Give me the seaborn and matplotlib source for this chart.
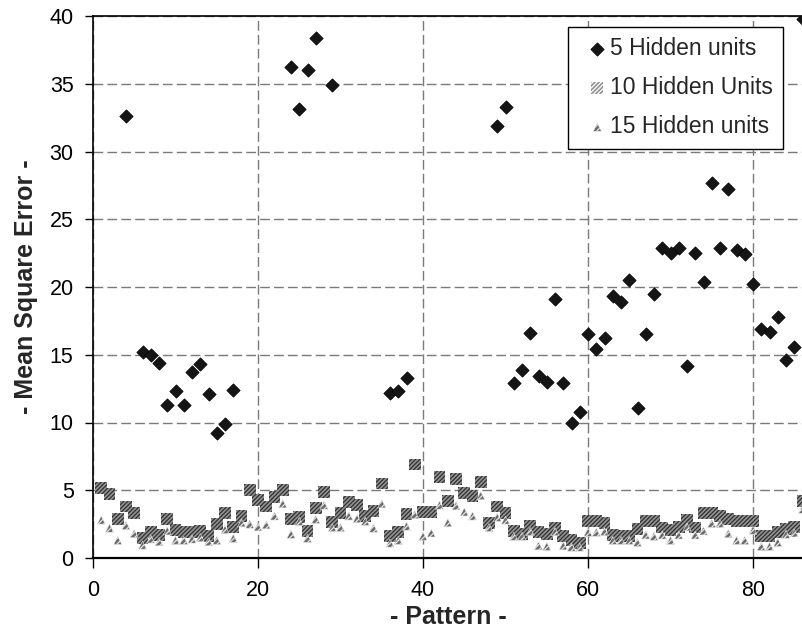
import numpy as np
import pandas as pd
import matplotlib
matplotlib.use('Agg')
import matplotlib.pyplot as plt
import seaborn as sns

# values (pattern 1..86), nan = off the chart
nan = np.nan
patterns = list(range(1, 87))

mse_5_hidden = [
    nan, nan, nan, 32.6, nan, 15.2, 15.0, 14.4, 11.3, 12.3,
    11.3, 13.75, 14.3, 12.1, 9.2, 9.9, 12.4, nan, nan, nan,
    nan, nan, nan, 36.2, 33.1, 36.0, 38.4, nan, 34.9, nan,
    nan, nan, nan, nan, nan, 12.2, 12.3, 13.3, nan, nan,
    nan, nan, nan, nan, nan, nan, nan, nan, 31.9, 33.3,
    12.9, 13.85, 16.6, 13.4, 13.0, 19.1, 12.9, 10.0, 10.8, 16.5,
    15.4, 16.2, 19.3, 18.9, 20.5, 11.1, 16.5, 19.5, 22.9, 22.5,
    22.9, 14.2, 22.5, 20.4, 27.7, 22.9, 27.2, 22.7, 22.4, 20.2,
    16.9, 16.7, 17.8, 14.6, 15.6, 39.8,
]

mse_10_hidden = [
    5.2, 4.7, 2.9, 3.8, 3.3, 1.5, 1.9, 1.7, 2.9, 2.05,
    1.9, 1.9, 2.0, 1.6, 2.5, 3.3, 2.3, 3.1, 5.0, 4.3,
    3.8, 4.5, 5.0, 2.9, 3.0, 2.0, 3.7, 4.85, 2.65, 3.3,
    4.1, 3.9, 3.1, 3.5, 5.5, 1.6, 1.9, 3.25, 6.9, 3.4,
    3.4, 5.95, 4.2, 5.8, 4.8, 4.6, 5.6, 2.55, 3.8, 3.3,
    2.0, 1.8, 2.35, 1.95, 1.8, 2.2, 1.65, 1.3, 1.1, 2.7,
    2.7, 2.6, 1.7, 1.6, 1.6, 2.15, 2.7, 2.7, 2.25, 2.05,
    2.3, 2.8, 2.25, 3.3, 3.3, 3.1, 2.85, 2.75, 2.75, 2.75,
    1.65, 1.6, 1.9, 2.15, 2.3, 4.2,
]

mse_15_hidden = [
    2.8, 2.2, 1.3, 2.4, 1.8, 0.95, 1.4, 1.2, 2.0, 1.3,
    1.3, 1.4, 1.5, 1.2, 1.3, 2.1, 1.45, 2.6, 2.5, 2.3,
    2.45, 3.1, 4.0, 1.75, 2.7, 1.45, 2.85, 3.9, 2.25, 2.25,
    3.1, 2.9, 2.7, 2.2, 4.0, 1.1, 1.3, 2.35, 3.2, 1.6,
    1.85, 3.9, 2.6, 3.85, 3.4, 3.1, 4.6, 2.25, 3.0, 2.8,
    1.6, 1.6, 1.95, 0.9, 0.85, 1.95, 0.9, 0.8, 0.8, 1.9,
    1.9, 1.95, 1.3, 1.3, 1.3, 1.15, 1.7, 1.6, 1.7, 1.3,
    1.7, 2.3, 1.7, 2.0, 2.55, 2.55, 1.8, 1.3, 1.3, 2.05,
    0.85, 0.85, 1.15, 1.75, 1.85, 3.6,
]

series_labels = ['5 Hidden units', '10 Hidden Units', '15 Hidden units']

df = pd.DataFrame({
    'pattern': patterns,
    series_labels[0]: mse_5_hidden,
    series_labels[1]: mse_10_hidden,
    series_labels[2]: mse_15_hidden,
})

sns.set_style('white')
plt.rcParams['font.family'] = ['Liberation Sans', 'DejaVu Sans']
plt.rcParams['hatch.linewidth'] = 0.9
plt.rcParams['hatch.color'] = '#303030'

fig = plt.figure(figsize=(8.03, 6.32), dpi=100)
ax = fig.add_axes([93 / 803, 74 / 632, 710 / 803, 542 / 632])

sns.scatterplot(data=df, x='pattern', y=series_labels[0], ax=ax,
                marker='D', s=46, color='#151515', edgecolor='#000000',
                linewidth=0.5, label=series_labels[0], zorder=3)
sns.scatterplot(data=df, x='pattern', y=series_labels[1], ax=ax,
                marker='s', s=74, color='#929292', edgecolor='none',
                linewidth=0, hatch='////////', label=series_labels[1], zorder=4)
sns.scatterplot(data=df, x='pattern', y=series_labels[2], ax=ax,
                marker='^', s=34, color='#6c6c6c', edgecolor='#e6e6e6',
                linewidth=0.35, hatch='//////', label=series_labels[2], zorder=5)

ax.set_xlim(0, 86.06)
ax.set_ylim(0, 40)
ax.set_xticks([0, 20, 40, 60, 80])
ax.set_yticks(np.arange(0, 41, 5))

ax.grid(True, color='#7a7a7a', linestyle=(0, (7, 3)), linewidth=1.0)
ax.set_axisbelow(True)

for side in ['left', 'bottom', 'top']:
    ax.spines[side].set_visible(True)
    ax.spines[side].set_color('black')
    ax.spines[side].set_linewidth(1.2)
ax.spines['bottom'].set_linewidth(1.6)
ax.spines['right'].set_visible(False)

ax.tick_params(axis='both', direction='out', length=6, width=1,
               color='black', labelsize=15.5, pad=6, labelcolor='black')
ax.tick_params(axis='x', bottom=True, length=7, pad=9)
ax.tick_params(axis='y', left=True, pad=8)

ax.set_xlabel('- Pattern -', fontsize=18, fontweight='bold', labelpad=3)
ax.set_ylabel('- Mean Square Error -', fontsize=18, fontweight='bold', labelpad=8)

leg = ax.legend(loc='upper right', bbox_to_anchor=(0.972, 0.98),
                fontsize=16.5, frameon=True, fancybox=False, framealpha=1,
                edgecolor='black', handlelength=1.7, handletextpad=-0.3,
                labelspacing=0.7, borderpad=0.45, borderaxespad=0)
leg.get_frame().set_linewidth(1.0)

fig.savefig('out.png', dpi=100)
